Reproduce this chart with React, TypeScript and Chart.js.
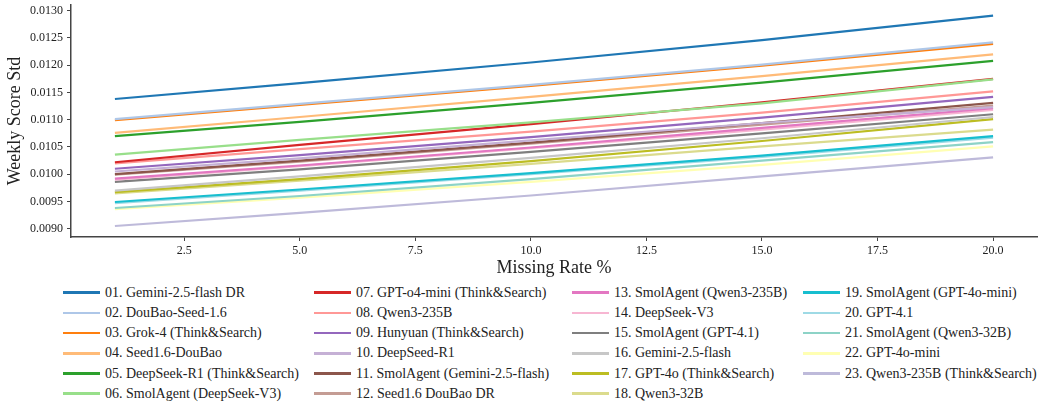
import { useEffect, useRef } from "react";
import { Chart, registerables } from "chart.js";
Chart.register(...registerables);

const missingRates = [1, 5, 10, 15, 20];

const modelNames = [
  "01. Gemini-2.5-flash DR",
  "02. DouBao-Seed-1.6",
  "03. Grok-4 (Think&Search)",
  "04. Seed1.6-DouBao",
  "05. DeepSeek-R1 (Think&Search)",
  "06. SmolAgent (DeepSeek-V3)",
  "07. GPT-o4-mini (Think&Search)",
  "08. Qwen3-235B",
  "09. Hunyuan (Think&Search)",
  "10. DeepSeed-R1",
  "11. SmolAgent (Gemini-2.5-flash)",
  "12. Seed1.6 DouBao DR",
  "13. SmolAgent (Qwen3-235B)",
  "14. DeepSeek-V3",
  "15. SmolAgent (GPT-4.1)",
  "16. Gemini-2.5-flash",
  "17. GPT-4o (Think&Search)",
  "18. Qwen3-32B",
  "19. SmolAgent (GPT-4o-mini)",
  "20. GPT-4.1",
  "21. SmolAgent (Qwen3-32B)",
  "22. GPT-4o-mini",
  "23. Qwen3-235B (Think&Search)",
];

const lineColors = [
  "#1f77b4", "#aec7e8", "#ff7f0e", "#ffbb78", "#2ca02c", "#98df8a",
  "#d62728", "#ff9896", "#9467bd", "#c5b0d5", "#8c564b", "#c49c94",
  "#e377c2", "#f7b6d2", "#7f7f7f", "#c7c7c7", "#bcbd22", "#dbdb8d",
  "#17becf", "#9edae5", "#8dd3c7", "#ffffb3", "#bebada",
];

const s01 = [0.01138, 0.01167, 0.01205, 0.01246, 0.01291];
const s02 = [0.01101, 0.01129, 0.01164, 0.01201, 0.01242];
const s03 = [0.01099, 0.01127, 0.01162, 0.01199, 0.01239];
const s04 = [0.01076, 0.01105, 0.01142, 0.0118, 0.0122];
const s05 = [0.0107, 0.01096, 0.01131, 0.01168, 0.01208];
const s06 = [0.01036, 0.01063, 0.01095, 0.0113, 0.01174];
const s07 = [0.01022, 0.01054, 0.01092, 0.01132, 0.01175];
const s08 = [0.0102, 0.01046, 0.01078, 0.01113, 0.01152];
const s09 = [0.0101, 0.01035, 0.01068, 0.01104, 0.01142];
const s10 = [0.01005, 0.01029, 0.01062, 0.01094, 0.01123];
const s11 = [0.01, 0.01025, 0.01058, 0.01094, 0.01131];
const s12 = [0.00999, 0.01023, 0.01056, 0.01091, 0.01126];
const s13 = [0.00992, 0.01016, 0.01049, 0.01085, 0.01121];
const s14 = [0.0099, 0.01015, 0.01048, 0.01082, 0.01118];
const s15 = [0.00986, 0.01009, 0.01041, 0.01075, 0.0111];
const s16 = [0.0097, 0.00996, 0.0103, 0.01066, 0.01105];
const s17 = [0.00967, 0.00991, 0.01024, 0.01061, 0.01101];
const s18 = [0.00965, 0.00988, 0.01019, 0.01051, 0.01082];
const s19 = [0.00949, 0.00972, 0.01002, 0.01034, 0.0107];
const s20 = [0.00947, 0.0097, 0.01, 0.01032, 0.01067];
const s21 = [0.00938, 0.0096, 0.00991, 0.01025, 0.01059];
const s22 = [0.00936, 0.00957, 0.00986, 0.01017, 0.01051];
const s23 = [0.00905, 0.00929, 0.00961, 0.00996, 0.01031];

const seriesValues = [
  s01, s02, s03, s04, s05, s06, s07, s08, s09, s10, s11, s12,
  s13, s14, s15, s16, s17, s18, s19, s20, s21, s22, s23,
];

const xTicks = [2.5, 5, 7.5, 10, 12.5, 15, 17.5, 20];
const yTicks = [0.009, 0.0095, 0.01, 0.0105, 0.011, 0.0115, 0.012, 0.0125, 0.013];

const FONT = "'Liberation Serif', 'Times New Roman', serif";
const AXIS = "#444444";

export default function App() {
  const ref = useRef<HTMLCanvasElement | null>(null);

  useEffect(() => {
    if (!ref.current) return;
    const chart = new Chart(ref.current, {
      type: "line",
      data: {
        datasets: seriesValues.map((vals, i) => ({
          label: modelNames[i],
          data: vals.map((v, j) => ({ x: missingRates[j], y: v })),
          borderColor: lineColors[i],
          backgroundColor: lineColors[i],
          borderWidth: 2.2,
          pointRadius: 0,
          tension: 0,
          fill: false,
        })),
      },
      options: {
        animation: false,
        responsive: false,
        maintainAspectRatio: false,
        layout: { padding: { left: 0, top: 5, right: 8, bottom: 0 } },
        plugins: { legend: { display: false }, tooltip: { enabled: false } },
        scales: {
          x: {
            type: "linear",
            min: 0.05,
            max: 20.95,
            afterFit: (s: any) => {
              s.height = 43;
              s.paddingLeft = 0;
              s.paddingRight = 0;
            },
            afterBuildTicks: (s: any) => {
              s.ticks = xTicks.map((v) => ({ value: v }));
            },
            ticks: {
              callback: (v: any) => Number(v).toFixed(1),
              font: { family: FONT, size: 12 },
              color: "#222",
              padding: 3,
              maxRotation: 0,
              autoSkip: false,
            },
            grid: { drawOnChartArea: false, drawTicks: true, tickLength: 4, color: AXIS, lineWidth: 1 },
            border: { display: true, color: AXIS, width: 1.5 },
            title: {
              display: true,
              text: "Missing Rate %",
              font: { family: FONT, size: 18 },
              color: "#222",
              padding: { top: 0, bottom: 1 },
            },
          },
          y: {
            type: "linear",
            min: 0.008848,
            max: 0.013105,
            afterFit: (s: any) => {
              s.width = 71;
              s.paddingTop = 0;
              s.paddingBottom = 0;
            },
            afterBuildTicks: (s: any) => {
              s.ticks = yTicks.map((v) => ({ value: v }));
            },
            ticks: {
              callback: (v: any) => Number(v).toFixed(4),
              font: { family: FONT, size: 12 },
              color: "#222",
              padding: 4,
              autoSkip: false,
            },
            grid: { drawOnChartArea: false, drawTicks: true, tickLength: 4, color: AXIS, lineWidth: 1 },
            border: { display: true, color: AXIS, width: 1.5 },
            title: {
              display: true,
              text: "Weekly Score Std",
              font: { family: FONT, size: 18 },
              color: "#222",
              padding: { top: 4, bottom: 0 },
            },
          },
        },
      },
    });
    return () => chart.destroy();
  }, []);

  const colLeft = [63, 314, 572, 803];
  const rowTop = 292.7;
  const rowGap = 20.2;

  return (
    <div style={{ position: "fixed", left: 0, top: 0, width: 1045, height: 406, background: "#fff" }}>
      <canvas ref={ref} width={1045} height={280} style={{ position: "absolute", left: 0, top: 0, width: 1045, height: 280 }} />
      {modelNames.map((name, i) => {
        const col = Math.floor(i / 6);
        const row = i % 6;
        const cy = rowTop + row * rowGap;
        return (
          <div
            key={name}
            style={{
              position: "absolute",
              left: colLeft[col],
              top: cy - 10,
              height: 20,
              display: "flex",
              alignItems: "center",
              whiteSpace: "nowrap",
              fontFamily: FONT,
              fontSize: 14,
              color: "#222",
            }}
          >
            <span style={{ display: "inline-block", width: 37, height: 2.5, background: lineColors[i], marginRight: 5 }} />
            <span>{name}</span>
          </div>
        );
      })}
    </div>
  );
}
